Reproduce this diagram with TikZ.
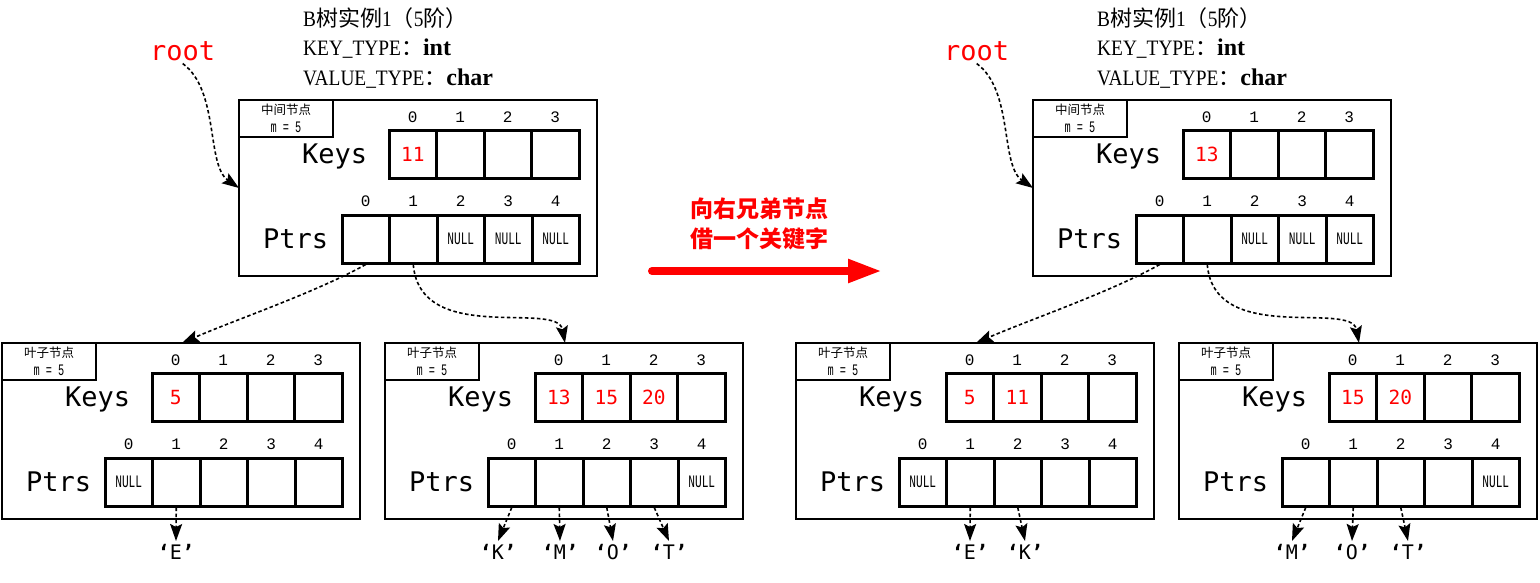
\documentclass[tikz,border=0pt]{standalone}
\usepackage{fontspec}
\setmainfont{Liberation Serif}
\newfontfamily\cjk{Noto Sans CJK SC}
\newfontfamily\mono{DejaVu Sans Mono}
\newfontfamily\nulfnt[FakeStretch=0.64]{Liberation Mono}
\newfontfamily\idxfnt{Liberation Mono}
\newfontfamily\ttl[FakeStretch=0.88]{Liberation Serif}
\usetikzlibrary{arrows.meta}
\tikzset{
 outerbox/.style={draw, line width=1.5pt, minimum width=358pt, minimum height=176pt, inner sep=0pt, outer sep=0pt},
 lblbox/.style={draw, line width=1.5pt, minimum width=94pt, minimum height=37pt, inner sep=0pt, outer sep=0pt},
 lbltext/.style={font=\cjk\fontsize{12.5}{12.5}\selectfont, inner sep=0pt},
 mtext/.style={font=\nulfnt\fontsize{16}{16}\selectfont, inner sep=0pt},
 bigtext/.style={font=\mono\fontsize{27}{27}\selectfont, inner sep=0pt},
 cell/.style={draw, line width=3pt, minimum width=47.5pt, minimum height=48pt, inner sep=0pt, font=\mono\fontsize{19.5}{19.5}\selectfont, text=red},
 idx/.style={font=\idxfnt\fontsize{16}{16}\selectfont, inner sep=0pt},
 conn/.style={line width=1.6pt, dash pattern=on 3.5pt off 2.5pt, -{Stealth[length=17pt,width=12pt,inset=3pt]}},
 letter/.style={font=\mono\fontsize{20}{20}\selectfont, inner sep=3pt, anchor=north},
 titletext/.style={font=\ttl\fontsize{22}{22}\selectfont, inner sep=0pt, anchor=base west},
 bigarrow/.style={line width=8pt, red, line cap=round, -{Triangle[length=34pt,width=22pt]}},
}
\newcommand\nul{{\color{black}\nulfnt\fontsize{17.5}{17.5}\selectfont NULL}}
\newcommand\qt[1]{{\bfseries ‘}#1{\bfseries ’}}
\newcommand\bblock[6]{%
 \begin{scope}[shift={(#2,#3)}]
  \node[outerbox] (#1) at (179,88) {};
  \node[lblbox] (#1-lbl) at (47,18.5) {};
  \node[lbltext] (#1-l1) at (47,10) {#4};
  \node[mtext] (#1-l2) at (47,27.5) {m = 5};
  \node[bigtext, anchor=base west] (#1-keys) at (63,63.5) {Keys};
  \node[bigtext, anchor=base west] (#1-ptrs) at (24,148) {Ptrs};
  \foreach \t [count=\i from 0] in {#5} {
    \node[cell] (#1-k\i) at ({173.75+47.5*\i},54.5) {\t};
    \node[idx] (#1-ki\i) at ({173.75+47.5*\i},17) {\i};
  }
  \foreach \t [count=\i from 0] in {#6} {
    \node[cell] (#1-p\i) at ({126.75+47.5*\i},139) {\t};
    \node[idx] (#1-pi\i) at ({126.75+47.5*\i},101.5) {\i};
  }
  \coordinate (#1-in) at (180,0);
 \end{scope}}
\begin{document}
\begin{tikzpicture}[x=1pt,y=-1pt]
\useasboundingbox (0,0) rectangle (1540,582);
% ---------- left half ----------
\node[titletext] (tL1) at (303,26) {B{\cjk 树实例}1{\cjk （}5{\cjk 阶）}};
\node[titletext] (tL2) at (303,55.5) {KEY\_TYPE{\cjk ：}{\rmfamily\bfseries\fontsize{24}{24}\selectfont int}};
\node[titletext] (tL3) at (303,85) {VALUE\_TYPE{\cjk ：}{\rmfamily\bfseries\fontsize{24}{24}\selectfont char}};
\node[bigtext, text=red, anchor=base west] (rootL) at (150,60) {root};
\bblock{LI}{239}{100}{中间节点}{11,{},{},{}}{{},{},\nul,\nul,\nul}
\bblock{LA}{2}{343}{叶子节点}{5,{},{},{}}{\nul,{},{},{},{}}
\bblock{LB}{385}{343}{叶子节点}{13,15,20,{}}{{},{},{},{},\nul}
\node[letter] (LA-E) at (176,541) {\qt{E}};
\node[letter] (LB-K) at (498,541) {\qt{K}};
\node[letter] (LB-M) at (560,541) {\qt{M}};
\node[letter] (LB-O) at (613,541) {\qt{O}};
\node[letter] (LB-T) at (669,541) {\qt{T}};
\draw[conn] ([yshift=-3pt]rootL.south) .. controls +(37,27) and +(-33,-23) .. (LI.west);
\draw[conn] (LI-p0.south) .. controls +(-50,28) and +(50,-22) .. (LA-in);
\draw[conn] (LI-p1.south) .. controls +(7,82) and +(-8,-43) .. (LB-in);
\draw[conn] (LA-p1.south) -- (LA-E.north);
\draw[conn] (LB-p0.south) -- (LB-K.north);
\draw[conn] (LB-p1.south) -- (LB-M.north);
\draw[conn] (LB-p2.south) -- (LB-O.north);
\draw[conn] (LB-p3.south) -- (LB-T.north);
% ---------- middle ----------
\node[font=\cjk\bfseries\fontsize{23}{30}\selectfont, text=red, align=center, inner sep=0pt] (mid) at (759,224) {向右兄弟节点\\借一个关键字};
\coordinate (arrS) at (652,271);
\coordinate (arrE) at (882,271);
\draw[bigarrow] (arrS) -- (arrE);
% ---------- right half ----------
\node[titletext] (tR1) at (1097,26) {B{\cjk 树实例}1{\cjk （}5{\cjk 阶）}};
\node[titletext] (tR2) at (1097,55.5) {KEY\_TYPE{\cjk ：}{\rmfamily\bfseries\fontsize{24}{24}\selectfont int}};
\node[titletext] (tR3) at (1097,85) {VALUE\_TYPE{\cjk ：}{\rmfamily\bfseries\fontsize{24}{24}\selectfont char}};
\node[bigtext, text=red, anchor=base west] (rootR) at (944,60) {root};
\bblock{RI}{1033}{100}{中间节点}{13,{},{},{}}{{},{},\nul,\nul,\nul}
\bblock{RA}{796}{343}{叶子节点}{5,11,{},{}}{\nul,{},{},{},{}}
\bblock{RB}{1179}{343}{叶子节点}{15,20,{},{}}{{},{},{},{},\nul}
\node[letter] (RA-E) at (970,541) {\qt{E}};
\node[letter] (RA-K) at (1025,541) {\qt{K}};
\node[letter] (RB-M) at (1292,541) {\qt{M}};
\node[letter] (RB-O) at (1352,541) {\qt{O}};
\node[letter] (RB-T) at (1408,541) {\qt{T}};
\draw[conn] ([yshift=-3pt]rootR.south) .. controls +(37,27) and +(-33,-23) .. (RI.west);
\draw[conn] (RI-p0.south) .. controls +(-50,28) and +(50,-22) .. (RA-in);
\draw[conn] (RI-p1.south) .. controls +(7,82) and +(-8,-43) .. (RB-in);
\draw[conn] (RA-p1.south) -- (RA-E.north);
\draw[conn] (RA-p2.south) -- (RA-K.north);
\draw[conn] (RB-p0.south) -- (RB-M.north);
\draw[conn] (RB-p1.south) -- (RB-O.north);
\draw[conn] (RB-p2.south) -- (RB-T.north);
\end{tikzpicture}
\end{document}
